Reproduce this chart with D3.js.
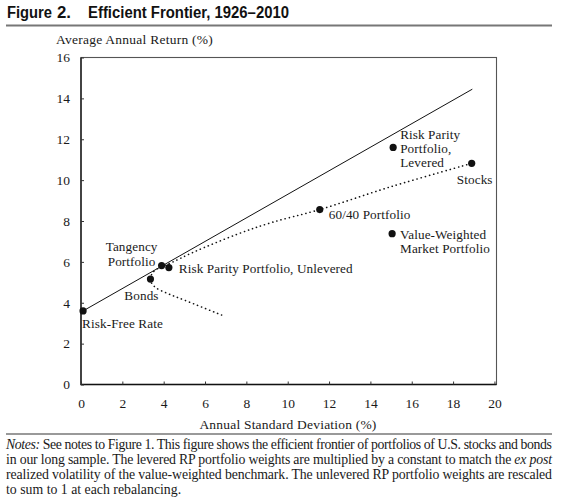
<!DOCTYPE html>
<html>
<head>
<meta charset="utf-8">
<script src="https://cdn.jsdelivr.net/npm/d3@7"></script>
<style>
  body { margin: 0; background: #fff; }
  svg { display: block; }
  .serif { font-family: "Liberation Serif", "Times New Roman", serif; fill: #1a1a1a; }
</style>
</head>
<body>
<div id="chart"></div>
<script>
// values (std dev %, avg return %)
var xTicks = [0, 2, 4, 6, 8, 10, 12, 14, 16, 18, 20];
var yTicks = [0, 2, 4, 6, 8, 10, 12, 14, 16];

var portfolioNames = ["Risk-Free Rate", "Bonds", "Tangency Portfolio", "Risk Parity Portfolio, Unlevered",
    "60/40 Portfolio", "Risk Parity Portfolio, Levered", "Stocks", "Value-Weighted Market Portfolio"];
var portfolioSd = [0.1, 3.36, 3.9, 4.25, 11.55, 15.1, 18.9, 15.05];
var portfolioRet = [3.6, 5.16, 5.82, 5.72, 8.56, 11.6, 10.82, 7.38];

// capital market line, from risk-free rate out past stocks
var cmlSd = [0.1, 18.93];
var cmlRet = [3.6, 14.45];

// stock/bond frontier (dotted), lower branch first
var frontierSd = [6.8, 5.0, 4.2, 3.6, 3.38, 3.45, 3.85, 4.3, 5.5, 7.55, 9.2, 11.55, 15.0, 18.9];
var frontierRet = [3.4, 4.13, 4.45, 4.75, 5.05, 5.45, 5.75, 5.93, 6.5, 7.35, 7.92, 8.56, 9.68, 10.82];

var noteLines = [
    [["Notes:", true], [" See notes to Figure 1. This figure shows the efficient frontier of portfolios of U.S. stocks and bonds", false]],
    [["in our long sample. The levered RP portfolio weights are multiplied by a constant to match the ", false], ["ex post", true]],
    [["realized volatility of the value-weighted benchmark. The unlevered RP portfolio weights are rescaled", false]],
    [["to sum to 1 at each rebalancing.", false]]
];
var noteWidths = [546, 546, 546, null];

var width = 568, height = 500;
var svg = d3.select("#chart").append("svg").attr("width", width).attr("height", height);

// title
function titlePart(x, txt, len) {
    var t = svg.append("text").attr("x", x).attr("y", 18)
        .style("font-family", "Liberation Sans, Arial, sans-serif").style("font-weight", "bold")
        .style("font-size", "16px").attr("fill", "#111").text(txt);
    if (len) t.attr("textLength", len).attr("lengthAdjust", "spacingAndGlyphs");
}
titlePart(7, "Figure", 45);
titlePart(57, "2.", 14);
titlePart(88, "Efficient Frontier, 1926\u20132010", 201);
svg.append("line").attr("x1", 6).attr("x2", 552).attr("y1", 25.5).attr("y2", 25.5)
    .attr("stroke", "#777").attr("stroke-width", 2);

var xScale = d3.scaleLinear().domain([0, 20.1]).range([81, 496.5]);
var yScale = d3.scaleLinear().domain([0, 16]).range([384.5, 57.5]);

var g = svg.append("g");

// frame
g.append("rect")
    .attr("x", xScale(0)).attr("y", yScale(16))
    .attr("width", xScale(20.1) - xScale(0)).attr("height", yScale(0) - yScale(16))
    .attr("fill", "none").attr("stroke", "#555").attr("stroke-width", 1.1);
g.append("path")
    .attr("d", "M" + xScale(0) + "," + yScale(16) + "V" + yScale(0) + "H" + xScale(20.1))
    .attr("fill", "none").attr("stroke", "#111").attr("stroke-width", 1.3);

var xAxis = g.append("g").attr("transform", "translate(0," + yScale(0) + ")")
    .call(d3.axisBottom(xScale).tickValues(xTicks).tickSizeInner(-3).tickSizeOuter(0).tickPadding(14));
var yAxis = g.append("g").attr("transform", "translate(" + xScale(0) + ",0)")
    .call(d3.axisLeft(yScale).tickValues(yTicks).tickSizeInner(-3).tickSizeOuter(0).tickPadding(11));
[xAxis, yAxis].forEach(function (a) {
    a.select(".domain").remove();
    a.selectAll("line").attr("stroke", "#333");
    a.selectAll("text").attr("class", "serif").style("font-size", "13.5px").attr("fill", "#1a1a1a");
});

svg.append("text").attr("class", "serif").attr("x", 56).attr("y", 44)
    .style("font-size", "13.5px").style("letter-spacing", "0.25px").text("Average Annual Return (%)");
svg.append("text").attr("class", "serif").attr("x", 288).attr("y", 429)
    .attr("text-anchor", "middle").style("font-size", "13.5px").style("letter-spacing", "0.2px")
    .text("Annual Standard Deviation (%)");

// lines
var line = d3.line().x(function (d) { return xScale(d[0]); }).y(function (d) { return yScale(d[1]); });
g.append("path").datum(d3.zip(cmlSd, cmlRet)).attr("d", line)
    .attr("fill", "none").attr("stroke", "#111").attr("stroke-width", 1);
g.append("path").datum(d3.zip(frontierSd, frontierRet)).attr("d", line.curve(d3.curveCatmullRom))
    .attr("fill", "none").attr("stroke", "#111").attr("stroke-width", 1.6)
    .attr("stroke-dasharray", "0.1 4.2").attr("stroke-linecap", "round");

// points
var pts = portfolioNames.map(function (n, i) { return { name: n, sd: portfolioSd[i], ret: portfolioRet[i] }; });
g.selectAll(".dot").data(pts).enter().append("circle")
    .attr("class", "dot")
    .attr("cx", function (d) { return xScale(d.sd); })
    .attr("cy", function (d) { return yScale(d.ret); })
    .attr("r", 3.6).attr("fill", "#111");

// labels: [lines, dx, dy of first baseline, anchor, line step]
var labelSpec = {
    "Risk-Free Rate": [["Risk-Free Rate"], -1, 17, "start", 0],
    "Bonds": [["Bonds"], -9, 21, "middle", 0],
    "Tangency Portfolio": [["Tangency", "Portfolio"], -30, -15, "middle", 15],
    "Risk Parity Portfolio, Unlevered": [["Risk Parity Portfolio, Unlevered"], 10, 5, "start", 0],
    "60/40 Portfolio": [["60/40 Portfolio"], 9, 9, "start", 0],
    "Risk Parity Portfolio, Levered": [["Risk Parity", "Portfolio,", "Levered"], 7, -8, "start", 14],
    "Stocks": [["Stocks"], 3, 21, "middle", 0],
    "Value-Weighted Market Portfolio": [["Value-Weighted", "Market Portfolio"], 8, 5, "start", 14]
};
g.selectAll(".lbl").data(pts).enter().append("text")
    .attr("class", "serif lbl")
    .style("font-size", "13.2px").style("letter-spacing", "0.1px")
    .attr("text-anchor", function (d) { return labelSpec[d.name][3]; })
    .each(function (d) {
        var s = labelSpec[d.name];
        var t = d3.select(this);
        s[0].forEach(function (l, i) {
            t.append("tspan")
                .attr("x", xScale(d.sd) + s[1])
                .attr("y", yScale(d.ret) + s[2] + i * s[4])
                .text(l);
        });
    });

// notes
svg.append("line").attr("x1", 6).attr("x2", 552).attr("y1", 434).attr("y2", 434)
    .attr("stroke", "#777").attr("stroke-width", 1.5);
noteLines.forEach(function (parts, i) {
    var t = svg.append("text").attr("class", "serif").attr("x", 6).attr("y", 449 + i * 15)
        .style("font-size", "13.8px");
    parts.forEach(function (p) {
        t.append("tspan").style("font-style", p[1] ? "italic" : "normal").text(p[0]);
    });
    if (noteWidths[i]) t.attr("textLength", noteWidths[i]).attr("lengthAdjust", "spacing");
});
</script>
</body>
</html>
